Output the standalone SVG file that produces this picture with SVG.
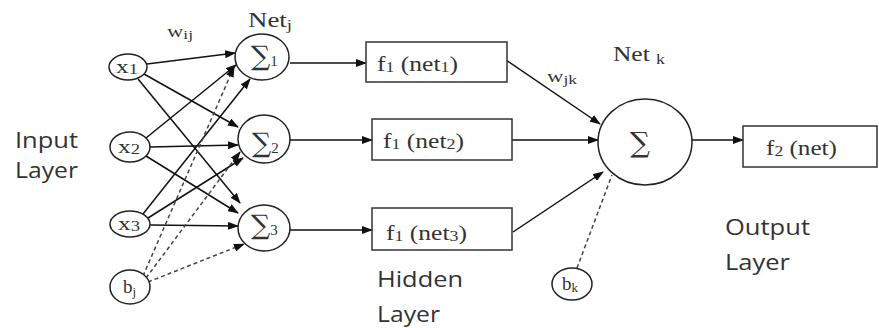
<svg xmlns="http://www.w3.org/2000/svg" width="879" height="328" viewBox="0 0 879 328">
<defs>
<marker id="ah" markerUnits="userSpaceOnUse" markerWidth="11" markerHeight="8" refX="10" refY="4" orient="auto">
<path d="M0,0 L11,4 L0,8 z" fill="#111"/>
</marker>
<style>
.n{fill:#fff;stroke:#222;stroke-width:1.5}
.b{fill:#fff;stroke:#333;stroke-width:1.5}
.l{stroke:#111;stroke-width:1.5;fill:none}
.la{stroke:#111;stroke-width:1.5;fill:none;marker-end:url(#ah)}
.d{stroke:#444;stroke-width:1.5;fill:none;stroke-dasharray:4 3}
.da{stroke:#444;stroke-width:1.5;fill:none;stroke-dasharray:4 3;marker-end:url(#ah)}
.t{font-family:"Liberation Serif","Times New Roman",serif;fill:#333}
.g{font-family:"DejaVu Serif","Liberation Serif",serif;fill:#333}
.s{font-family:"Open Sans","Segoe UI","DejaVu Sans",sans-serif;fill:#333;font-size:21px}
</style>
</defs>
<rect width="879" height="328" fill="#fff"/>
<g id="connectors">
<line class="la" x1="147" y1="64" x2="235" y2="53"/>
<line class="la" x1="144" y1="74" x2="238" y2="127"/>
<line class="la" x1="138" y1="79" x2="240" y2="203"/>
<line class="la" x1="146" y1="138" x2="236" y2="65"/>
<line class="la" x1="150" y1="147" x2="238" y2="145"/>
<line class="la" x1="146" y1="156" x2="238" y2="213"/>
<line class="la" x1="143" y1="214" x2="250" y2="79"/>
<line class="la" x1="148" y1="218" x2="243" y2="158"/>
<line class="la" x1="150" y1="225" x2="238" y2="226"/>
<line class="da" x1="143" y1="276" x2="234" y2="67"/>
<line class="da" x1="146" y1="278" x2="240" y2="152"/>
<line class="da" x1="148" y1="282" x2="244" y2="244"/>
<line class="la" x1="290" y1="63" x2="366" y2="63"/>
<line class="la" x1="290" y1="140" x2="372" y2="140"/>
<line class="la" x1="290" y1="230" x2="372" y2="230"/>
<line class="la" x1="506" y1="60" x2="600" y2="124"/>
<line class="la" x1="512" y1="140" x2="598" y2="140"/>
<line class="la" x1="513" y1="232" x2="603" y2="172"/>
<line class="d" x1="577" y1="268" x2="612" y2="175"/>
<line class="la" x1="692" y1="140" x2="743" y2="140"/>
</g>
<g id="x1"><ellipse class="n" cx="128" cy="67" rx="19" ry="13"/><text class="t" x="116" y="73" font-size="19" textLength="22" lengthAdjust="spacingAndGlyphs">x<tspan font-size="14" dy="1">1</tspan></text></g>
<g id="x2"><ellipse class="n" cx="130" cy="147" rx="20" ry="15"/><text class="t" x="118" y="153" font-size="19" textLength="22" lengthAdjust="spacingAndGlyphs">x<tspan font-size="14" dy="1">2</tspan></text></g>
<g id="x3"><ellipse class="n" cx="130" cy="224" rx="20" ry="13"/><text class="t" x="118" y="230" font-size="19" textLength="22" lengthAdjust="spacingAndGlyphs">x<tspan font-size="14" dy="1">3</tspan></text></g>
<g id="bj"><ellipse class="n" cx="130" cy="287" rx="20" ry="17"/><text class="t" x="123" y="293" font-size="19">b<tspan font-size="13" dy="3">j</tspan></text></g>
<g id="sum1"><ellipse class="n" cx="262" cy="57" rx="27" ry="23"/><text class="g" x="251" y="65" font-size="27">∑<tspan class="t" font-size="15" dy="1">1</tspan></text></g>
<g id="sum2"><ellipse class="n" cx="264" cy="139" rx="26" ry="24"/><text class="g" x="252" y="152" font-size="27">∑<tspan class="t" font-size="15" dy="1">2</tspan></text></g>
<g id="sum3"><ellipse class="n" cx="264" cy="228" rx="26" ry="23"/><text class="g" x="251" y="234" font-size="27">∑<tspan class="t" font-size="15" dy="1">3</tspan></text></g>
<g id="f1net1"><rect class="b" x="366" y="42" width="141" height="40"/><text class="t" x="377" y="71" font-size="20" textLength="81" lengthAdjust="spacingAndGlyphs">f<tspan font-size="14" dy="1">1</tspan><tspan dy="-1"> (net</tspan><tspan font-size="14" dy="1">1</tspan><tspan dy="-1">)</tspan></text></g>
<g id="f1net2"><rect class="b" x="372" y="119" width="140" height="41"/><text class="t" x="383" y="148" font-size="20" textLength="81" lengthAdjust="spacingAndGlyphs">f<tspan font-size="14" dy="1">1</tspan><tspan dy="-1"> (net</tspan><tspan font-size="14" dy="1">2</tspan><tspan dy="-1">)</tspan></text></g>
<g id="f1net3"><rect class="b" x="372" y="208" width="140" height="42"/><text class="t" x="386" y="240" font-size="20" textLength="81" lengthAdjust="spacingAndGlyphs">f<tspan font-size="14" dy="1">1</tspan><tspan dy="-1"> (net</tspan><tspan font-size="14" dy="1">3</tspan><tspan dy="-1">)</tspan></text></g>
<g id="sumk"><ellipse class="n" cx="645" cy="142" rx="47" ry="43"/><text class="g" x="630" y="152" font-size="28">∑</text></g>
<g id="bk"><ellipse class="n" cx="572" cy="284" rx="20" ry="16"/><text class="t" x="562" y="290" font-size="19">b<tspan font-size="13" dy="2">k</tspan></text></g>
<g id="f2net"><rect class="b" x="743" y="126" width="134" height="41"/><text class="t" x="766" y="155" font-size="20" textLength="71" lengthAdjust="spacingAndGlyphs">f<tspan font-size="14" dy="1">2</tspan><tspan dy="-1"> (net)</tspan></text></g>
<g id="labels">
<text class="t" x="248" y="27" font-size="20" textLength="44" lengthAdjust="spacingAndGlyphs">Net<tspan font-size="14" dy="3">j</tspan></text>
<text class="t" x="167" y="37" font-size="17" textLength="26" lengthAdjust="spacingAndGlyphs">w<tspan font-size="13" dy="2">ij</tspan></text>
<text class="t" x="613" y="61" font-size="20" textLength="52" lengthAdjust="spacingAndGlyphs">Net <tspan font-size="14" dy="3">k</tspan></text>
<text class="t" x="547" y="82" font-size="17" textLength="30" lengthAdjust="spacingAndGlyphs">w<tspan font-size="13" dy="2">jk</tspan></text>
<text class="s" x="15" y="148" textLength="63" lengthAdjust="spacingAndGlyphs">Input</text>
<text class="s" x="15" y="178" textLength="63" lengthAdjust="spacingAndGlyphs">Layer</text>
<text class="s" x="377" y="287" textLength="86" lengthAdjust="spacingAndGlyphs">Hidden</text>
<text class="s" x="377" y="322" textLength="63" lengthAdjust="spacingAndGlyphs">Layer</text>
<text class="s" x="725" y="235" textLength="85" lengthAdjust="spacingAndGlyphs">Output</text>
<text class="s" x="725" y="270" textLength="65" lengthAdjust="spacingAndGlyphs">Layer</text>
</g>
</svg>
